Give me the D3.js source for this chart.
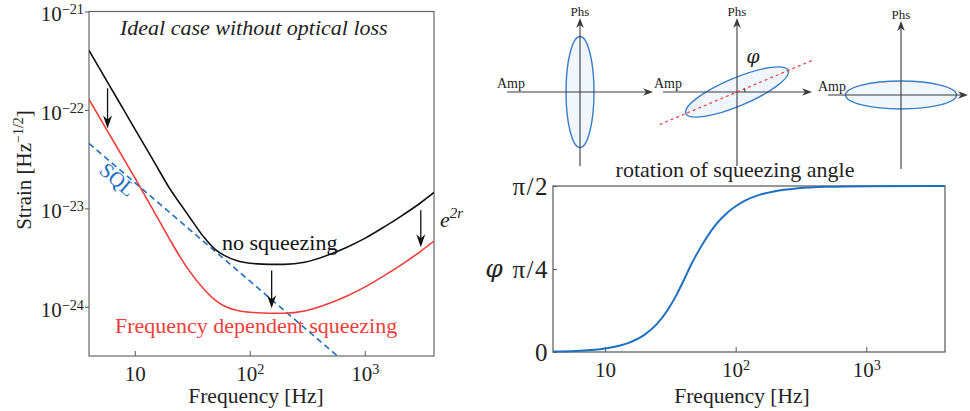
<!DOCTYPE html>
<html>
<head>
<meta charset="utf-8">
<script src="https://cdn.jsdelivr.net/npm/d3@7"></script>
<style>
  body { margin: 0; background: #fff; }
  svg { display: block; }
</style>
</head>
<body>
<script>
const SERIF = "'Liberation Serif', 'DejaVu Serif', serif";
const GREEK = "'DejaVu Serif', 'Liberation Serif', serif";

// Noise curves (Hz, strain / sqrt(Hz))
const freqs = [4, 6, 8, 10, 15, 20, 25, 30, 40, 50, 60, 80, 100, 150, 200, 300, 500, 700, 1000, 1500, 2000, 3000, 4000];
const noSqueezing = [4.02e-22, 1.79e-22, 1.005e-22, 6.43e-23, 2.86e-23, 1.61e-23, 1.10e-23, 8.13e-24, 5.08e-24, 3.84e-24, 3.33e-24, 2.90e-24, 2.77e-24, 2.70e-24, 2.70e-24, 2.83e-24, 3.41e-24, 4.02e-24, 4.95e-24, 6.56e-24, 8.11e-24, 1.12e-23, 1.45e-23];
const freqDepSqueezing = [1.28e-22, 5.69e-23, 3.20e-23, 2.05e-23, 8.91e-24, 4.90e-24, 3.16e-24, 2.29e-24, 1.51e-24, 1.17e-24, 1.02e-24, 9.12e-25, 8.81e-25, 8.61e-25, 8.61e-25, 9.06e-25, 1.09e-24, 1.285e-24, 1.585e-24, 2.10e-24, 2.59e-24, 3.60e-24, 4.65e-24];
const sqlFreqs = [4, 4000];
const sqlStrain = [4.57e-23, 4.57e-26];

// arrows: [frequency, strain at tail, strain at tip]
const arrows = [[5.8, 1.66e-22, 6.46e-23], [155, 2.34e-24, 9.66e-25], [3070, 9.55e-24, 4.02e-24]];

const strainTicks = [1e-21, 1e-22, 1e-23, 1e-24];
const strainTickExp = ["\u221221", "\u221222", "\u221223", "\u221224"];
const freqTicks = [10, 100, 1000];
const freqTickExp = ["", "2", "3"];

// Squeezing angle vs frequency (radians)
const angleFreqs = [4, 6, 10, 15, 20, 25, 30, 35, 40, 45, 50, 60, 70, 85, 100, 120, 150, 200, 300, 500, 1000, 4000];
const angleValues = [0.0040, 0.0102, 0.0330, 0.0840, 0.1616, 0.2661, 0.3929, 0.5336, 0.6768, 0.8113, 0.9189, 1.0839, 1.2017, 1.3116, 1.3792, 1.4373, 1.4844, 1.5221, 1.5488, 1.5630, 1.5689, 1.5708];
const angleTicks = [0, Math.PI / 4, Math.PI / 2];
const angleTickLabels = ["0", "\u03c0/4", "\u03c0/2"];

// Ellipse orientation in the three phase-space sketches (degrees from Amp axis)
const squeezeAngles = [90, 22.8, 0];

const svg = d3.select("body").append("svg")
  .attr("width", 970).attr("height", 411)
  .attr("font-family", SERIF)
  .style("background", "#fff");

function supLabel(sel, base, exp) {
  sel.text(null);
  sel.append("tspan").text(base);
  if (exp) sel.append("tspan").attr("dy", "-0.5em").attr("font-size", "0.68em").text(exp);
}

function arrowHead(g, x, y, dx, dy, len, half, color) {
  // tip at (x,y), pointing along (dx,dy)
  const px = -dy, py = dx;
  const bx = x - dx * len, by = y - dy * len;
  const nx = x - dx * len * 0.7, ny = y - dy * len * 0.7;
  g.append("path")
    .attr("d", `M${x},${y}L${bx + px * half},${by + py * half}L${nx},${ny}L${bx - px * half},${by - py * half}Z`)
    .attr("fill", color);
}

// ---------- left panel: strain spectra ----------
const L = { left: 89, right: 434, top: 11.5, bottom: 356 };
const xL = d3.scaleLog().domain([4, 4000]).range([L.left, L.right]);
const yL = d3.scaleLog().domain([Math.pow(10, -24.5), 1e-21]).range([L.bottom, L.top]);

svg.append("clipPath").attr("id", "clipL")
  .append("rect").attr("x", L.left).attr("y", L.top)
  .attr("width", L.right - L.left).attr("height", L.bottom - L.top);

const gxL = svg.append("g")
  .attr("transform", `translate(0,${L.bottom})`)
  .call(d3.axisBottom(xL).tickValues(freqTicks).tickSizeInner(-5).tickSizeOuter(0).tickPadding(10));
gxL.select(".domain").remove();
gxL.attr("font-family", SERIF).attr("font-size", 21).attr("color", "#555");
gxL.selectAll("text").attr("fill", "#222").each(function (d, i) {
  supLabel(d3.select(this), "10", freqTickExp[i]);
});

const gyL = svg.append("g")
  .attr("transform", `translate(${L.left},0)`)
  .call(d3.axisLeft(yL).tickValues(strainTicks).tickSizeInner(4).tickSizeOuter(0).tickPadding(1));
gyL.select(".domain").remove();
gyL.attr("font-family", SERIF).attr("font-size", 21).attr("color", "#555");
gyL.selectAll("text").attr("fill", "#222").attr("dy", "0.45em").each(function (d, i) {
  supLabel(d3.select(this), "10", strainTickExp[i]);
});

svg.append("rect")
  .attr("x", L.left).attr("y", L.top)
  .attr("width", L.right - L.left).attr("height", L.bottom - L.top)
  .attr("fill", "none").attr("stroke", "#666").attr("stroke-width", 1.2);

const lineL = d3.line().x(d => xL(d[0])).y(d => yL(d[1])).curve(d3.curveMonotoneX);
const plotL = svg.append("g").attr("clip-path", "url(#clipL)");

plotL.append("path").datum(d3.zip(sqlFreqs, sqlStrain))
  .attr("d", lineL).attr("fill", "none")
  .attr("stroke", "#1f6fc1").attr("stroke-width", 1.6).attr("stroke-dasharray", "6,4");
plotL.append("path").datum(d3.zip(freqs, noSqueezing))
  .attr("d", lineL).attr("fill", "none")
  .attr("stroke", "#111").attr("stroke-width", 1.6);
plotL.append("path").datum(d3.zip(freqs, freqDepSqueezing))
  .attr("d", lineL).attr("fill", "none")
  .attr("stroke", "#ef3e3a").attr("stroke-width", 1.6);

arrows.forEach(([f, h0, h1]) => {
  const x = xL(f), y0 = yL(h0), y1 = yL(h1);
  svg.append("line").attr("x1", x).attr("x2", x).attr("y1", y0).attr("y2", y1 - 8)
    .attr("stroke", "#111").attr("stroke-width", 1.3);
  arrowHead(svg, x, y1, 0, 1, 13, 4.5, "#111");
});

svg.append("text").attr("x", 120).attr("y", 35)
  .attr("font-size", 22).attr("font-style", "italic").attr("fill", "#222")
  .text("Ideal case without optical loss");
svg.append("text").attr("x", 222).attr("y", 250)
  .attr("font-size", 22).attr("fill", "#111").text("no squeezing");
svg.append("text").attr("x", 115).attr("y", 333)
  .attr("font-size", 22).attr("fill", "#ef3e3a").text("Frequency dependent squeezing");
svg.append("text")
  .attr("transform", "translate(113,185) rotate(40.4)")
  .attr("text-anchor", "middle")
  .attr("font-size", 21).attr("fill", "#1f6fc1").text("SQL");

const e2r = svg.append("text").attr("x", 440).attr("y", 227).attr("fill", "#222");
e2r.append("tspan").attr("font-size", 22).attr("font-style", "italic").text("e");
e2r.append("tspan").attr("font-size", 15).attr("font-style", "italic").attr("dy", -9).text("2r");

const ylab = svg.append("text")
  .attr("transform", "translate(31,170) rotate(-90)")
  .attr("text-anchor", "middle").attr("font-size", 21).attr("fill", "#222");
ylab.append("tspan").text("Strain [Hz");
ylab.append("tspan").attr("dy", -8).attr("font-size", 14).text("\u22121/2");
ylab.append("tspan").attr("dy", 8).text("]");

svg.append("text").attr("x", 256).attr("y", 403)
  .attr("text-anchor", "middle").attr("font-size", 21.5).attr("fill", "#222")
  .text("Frequency [Hz]");

// ---------- right bottom panel: squeezing angle ----------
const R = { left: 553, right: 945, top: 186, bottom: 352 };
const xR = d3.scaleLog().domain([4, 4000]).range([R.left, R.right]);
const yR = d3.scaleLinear().domain([0, Math.PI / 2]).range([R.bottom, R.top]);

const gxR = svg.append("g")
  .attr("transform", `translate(0,${R.bottom})`)
  .call(d3.axisBottom(xR).tickValues(freqTicks).tickSizeInner(-5).tickSizeOuter(0).tickPadding(10));
gxR.select(".domain").remove();
gxR.attr("font-family", SERIF).attr("font-size", 21).attr("color", "#555");
gxR.selectAll("text").attr("fill", "#222").each(function (d, i) {
  supLabel(d3.select(this), "10", freqTickExp[i]);
});

const gyR = svg.append("g")
  .attr("transform", `translate(${R.left},0)`)
  .call(d3.axisLeft(yR).tickValues(angleTicks).tickSizeInner(-4).tickSizeOuter(0).tickPadding(4)
    .tickFormat((d, i) => angleTickLabels[i]));
gyR.select(".domain").remove();
gyR.attr("font-family", SERIF).attr("font-size", 25).attr("color", "#555");
gyR.selectAll("text").attr("fill", "#222").attr("letter-spacing", 1.5);

svg.append("rect")
  .attr("x", R.left).attr("y", R.top)
  .attr("width", R.right - R.left).attr("height", R.bottom - R.top)
  .attr("fill", "none").attr("stroke", "#555").attr("stroke-width", 1.2);

svg.append("path").datum(d3.zip(angleFreqs, angleValues))
  .attr("d", d3.line().x(d => xR(d[0])).y(d => yR(d[1])).curve(d3.curveMonotoneX))
  .attr("fill", "none").attr("stroke", "#1f70c0").attr("stroke-width", 2);

svg.append("text").attr("x", 735).attr("y", 177)
  .attr("text-anchor", "middle").attr("font-size", 22).attr("fill", "#222")
  .text("rotation of squeezing angle");
svg.append("text").attr("x", 494).attr("y", 277)
  .attr("text-anchor", "middle").attr("font-size", 25).attr("font-family", GREEK)
  .attr("font-style", "italic").attr("fill", "#222")
  .text("\u03c6");
svg.append("text").attr("x", 742).attr("y", 403)
  .attr("text-anchor", "middle").attr("font-size", 21.5).attr("fill", "#222")
  .text("Frequency [Hz]");

// ---------- right top: phase-space sketches ----------
const sketch = [
  { cx: 580, cy: 92, left: 73, right: 73 },
  { cx: 737, cy: 92, left: 74, right: 75 },
  { cx: 901, cy: 95, left: 73, right: 67 }
];
const axisColor = "#3a3a3a";

squeezeAngles.forEach((ang, i) => {
  const s = sketch[i];
  const g = svg.append("g");
  g.append("ellipse")
    .attr("transform", `translate(${s.cx},${s.cy}) rotate(${-ang})`)
    .attr("rx", 55.5).attr("ry", 14)
    .attr("fill", "#f1f6fc").attr("stroke", "#3a7cc8").attr("stroke-width", 1.4);

  // Amp axis
  g.append("line").attr("x1", s.cx - s.left).attr("x2", s.cx + s.right - 6)
    .attr("y1", s.cy).attr("y2", s.cy).attr("stroke", axisColor).attr("stroke-width", 1.1);
  arrowHead(g, s.cx + s.right, s.cy, 1, 0, 10, 3.8, axisColor);
  // Phs axis
  g.append("line").attr("x1", s.cx).attr("x2", s.cx)
    .attr("y1", s.cy - 74 + 6).attr("y2", s.cy + 74)
    .attr("stroke", axisColor).attr("stroke-width", 1.1);
  arrowHead(g, s.cx, s.cy - 74, 0, -1, 10, 3.8, axisColor);

  g.append("text").attr("x", s.cx - 83).attr("y", s.cy - 4)
    .attr("font-size", 14).attr("fill", "#222").text("Amp");
  g.append("text").attr("x", s.cx).attr("y", s.cy - 76)
    .attr("text-anchor", "middle").attr("font-size", 13).attr("fill", "#222").text("Phs");

  if (ang > 0 && ang < 90) {
    const r = ang * Math.PI / 180;
    const c = Math.cos(r), sn = Math.sin(r);
    g.append("line")
      .attr("x1", s.cx - 84 * c).attr("y1", s.cy + 84 * sn)
      .attr("x2", s.cx + 84 * c).attr("y2", s.cy - 84 * sn)
      .attr("stroke", "#e8403f").attr("stroke-width", 1.2).attr("stroke-dasharray", "3,3");
    g.append("path")
      .attr("d", `M${s.cx + 8},${s.cy} A8,8 0 0 0 ${s.cx + 8 * c},${s.cy - 8 * sn}`)
      .attr("fill", "none").attr("stroke", "#222").attr("stroke-width", 1);
    g.append("text").attr("x", s.cx + 16).attr("y", s.cy - 29)
      .attr("text-anchor", "middle").attr("font-size", 19).attr("font-family", GREEK)
      .attr("font-style", "italic").attr("fill", "#222")
      .text("\u03c6");
  }
});
</script>
</body>
</html>
